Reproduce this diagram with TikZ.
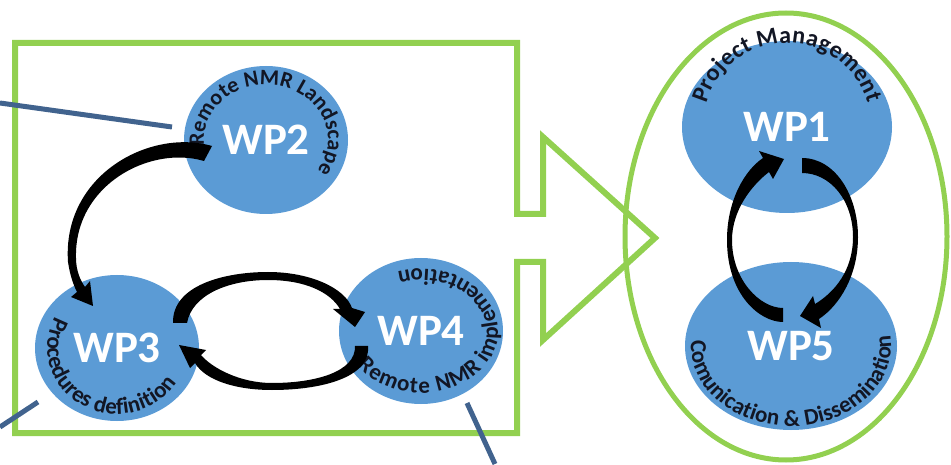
\documentclass[tikz,border=0pt]{standalone}
\usepackage{fontspec}
\setmainfont{Carlito}
\usetikzlibrary{shapes.geometric,decorations.text}

\definecolor{wpblue}{RGB}{91,155,213}
\definecolor{wpgreen}{RGB}{146,208,80}
\definecolor{wpline}{RGB}{65,99,142}
\definecolor{wptext}{RGB}{18,22,36}

\newcommand\wparcfont[1]{\fontsize{#1}{#1}\selectfont\bfseries}

\tikzset{
  wpnode/.style={ellipse, fill=wpblue, inner sep=0pt, outer sep=0pt,
    text=white, font=\fontsize{45}{45}\selectfont\bfseries},
  outline/.style={draw=wpgreen, line width=6pt, line join=miter},
  leader/.style={draw=wpline, line width=5pt},
  flow/.style={fill=black},
  arctext/.style={decorate, decoration={text along path, text align={fit to path},
    text color=wptext}}
}

\begin{document}
\begin{tikzpicture}[x=1pt,y=1pt]
\useasboundingbox (0,0) rectangle (951,464);

% green frame with its arrow, and the ellipse round WP1/WP5
\begin{scope}[shift={(0,464)},yscale=-1]
  \draw[outline] (15,43) -- (517,43) -- (517,214) -- (543,214) -- (543,137)
    -- (655,238) -- (543,340) -- (543,262) -- (517,262) -- (517,433)
    -- (15,433) -- cycle;
  \draw[draw=wpgreen, line width=5pt] (786,236.5) ellipse [x radius=161, y radius=223.5];
\end{scope}

% work packages
\node[wpnode, minimum width=164, minimum height=148] (wp2) at (266,324) {WP2};
\node[wpnode, minimum width=164, minimum height=146] (wp3) at (117,116) {WP3};
\node[wpnode, minimum width=164, minimum height=146] (wp4) at (421,133) {WP4};
\node[wpnode, minimum width=210, minimum height=172] (wp1) at (787,337) {WP1};
\node[wpnode, minimum width=212, minimum height=168] (wp5) at (791,118) {WP5};

% curved captions
\path[arctext, decoration={text={|\wparcfont{22}|Remote NMR Landscape}}]
  ([shift={(186:62 and 55)}]wp2.center) arc[start angle=186, end angle=-34, x radius=62, y radius=55];
\path[arctext, decoration={text={|\wparcfont{23}|Procedures definition}}]
  ([shift={(152:70 and 66)}]wp3.center) arc[start angle=152, end angle=328, x radius=70, y radius=66];
\path[arctext, decoration={text={|\wparcfont{23}|Remote NMR implementation}}]
  ([shift={(214:77 and 62)}]wp4.center) arc[start angle=214, end angle=468, x radius=77, y radius=62];
\path[arctext, decoration={text={|\wparcfont{24}|Project Management}}]
  ([shift={(164:84 and 84)}]wp1.center) arc[start angle=164, end angle=16, x radius=84, y radius=84];
\path[arctext, decoration={text={|\wparcfont{23}|Comunication {\&} Dissemination}}]
  ([shift={(176:100 and 80)}]wp5.center) arc[start angle=176, end angle=368, x radius=100, y radius=80];

% flow arrows between the packages
\begin{scope}[shift={(0,464)},yscale=-1]
  % WP2 -> WP3
  \fill[flow] (212,146) .. controls (150,128) and (62,175) .. (68,262)
    .. controls (70,275) and (73,284) .. (77,292) -- (71,297) -- (93,306)
    -- (90,281) -- (85,287) .. controls (80,280) and (76,270) .. (76,258)
    .. controls (74,185) and (150,145) .. (204,161) -- cycle;
  % WP3 -> WP4
  \fill[flow] (173,323) .. controls (172,285) and (225,272) .. (268,272)
    .. controls (310,272) and (345,288) .. (352,308) -- (365,312) -- (355,327)
    -- (333,309) -- (340,309) .. controls (330,292) and (305,280) .. (268,280)
    .. controls (228,280) and (192,295) .. (187,323) -- cycle;
  % WP4 -> WP3
  \fill[flow] (368,346) .. controls (371,378) and (320,390) .. (272,390)
    .. controls (235,390) and (205,380) .. (195,363) -- (190,368) -- (179,345)
    -- (206,350) -- (201,355) .. controls (212,368) and (240,383) .. (272,383)
    .. controls (315,383) and (356,372) .. (355,346) -- cycle;
  % WP5 -> WP1
  \fill[flow] (783,322) .. controls (760,322) and (727,295) .. (727,240)
    .. controls (727,200) and (745,170) .. (763,158) -- (759,151) -- (784,159)
    -- (773,179) -- (769,172) .. controls (752,185) and (732,210) .. (732,240)
    .. controls (732,280) and (760,308) .. (783,308) -- cycle;
  % WP1 -> WP5
  \fill[flow] (802,158) .. controls (835,158) and (858,195) .. (858,237)
    .. controls (858,275) and (840,305) .. (819,319) -- (821,328) -- (800,316)
    -- (813,296) -- (815,304) .. controls (835,292) and (853,270) .. (853,237)
    .. controls (853,200) and (830,173) .. (802,173) -- cycle;
\end{scope}

% leader lines
\coordinate (l1a) at (0,361);
\coordinate (l1b) at (172,337);
\coordinate (l2a) at (0,37);
\coordinate (l2b) at (38,62);
\coordinate (l3a) at (467,61);
\coordinate (l3b) at (495,0);
\draw[leader] (l1a) -- (l1b);
\draw[leader] (l2a) -- (l2b);
\draw[leader] (l3a) -- (l3b);
\end{tikzpicture}
\end{document}
